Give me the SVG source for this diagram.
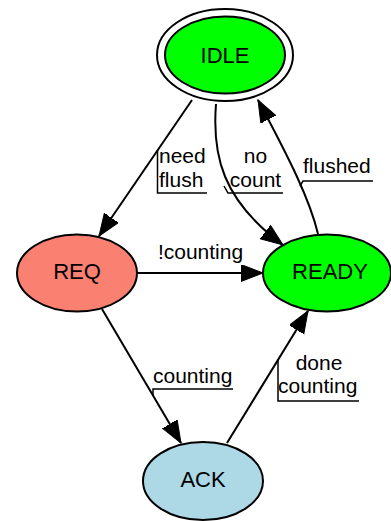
<svg xmlns="http://www.w3.org/2000/svg" width="391" height="521" viewBox="0 0 391 521">
<style>
.n{stroke:#000;stroke-width:2}
.e{fill:none;stroke:#000;stroke-width:2}
.d{fill:none;stroke:#000;stroke-width:1.5}
.t{font-family:"Liberation Sans",Arial,sans-serif;font-size:22px;fill:#000;text-anchor:middle}
.l{font-family:"Liberation Sans",Arial,sans-serif;font-size:21px;fill:#000}
</style>
<defs>
<marker id="a" markerUnits="userSpaceOnUse" markerWidth="24" markerHeight="18" refX="22" refY="8.5" orient="auto" viewBox="0 0 24 18">
<path d="M0,0 L22,8.5 L0,17 Z" fill="#000" stroke="#000" stroke-width="1"/>
</marker>
</defs>
<g id="edges">
<path class="e" d="M192,100 L99,236" marker-end="url(#a)"/>
<path class="e" d="M216,104 C212,155 222,200 283,245" marker-end="url(#a)"/>
<path class="e" d="M318,234 C310,200 290,160 258,100" marker-end="url(#a)"/>
<path class="e" d="M137,273 L263,273" marker-end="url(#a)"/>
<path class="e" d="M102,309 L181,443" marker-end="url(#a)"/>
<path class="e" d="M227,443 L308,311" marker-end="url(#a)"/>
<text class="l" x="159" y="163">need</text>
<text class="l" x="159" y="187">flush</text>
<path class="d" d="M157.5,150 L157.5,193 L207,193"/>
<text class="l" x="255.5" y="163" text-anchor="middle">no</text>
<text class="l" x="255.5" y="187" text-anchor="middle">count</text>
<path class="d" d="M224,186 L228,193 L283,193"/>
<text class="l" x="303" y="173">flushed</text>
<path class="d" d="M300,186 L303,181 L373,181"/>
<text class="l" x="200.5" y="259" text-anchor="middle">!counting</text>
<text class="l" x="153" y="383">counting</text>
<path class="d" d="M153,396 L153,389 L233,389"/>
<text class="l" x="319" y="370" text-anchor="middle">done</text>
<text class="l" x="278" y="393">counting</text>
<path class="d" d="M278,359 L278,401 L359,401"/>
</g>
<g id="IDLE">
<ellipse cx="225" cy="55" rx="68" ry="46" fill="none" class="n"/>
<ellipse cx="225" cy="55" rx="60" ry="38.5" fill="#00ff00" class="n"/>
<text class="t" x="225" y="63">IDLE</text>
</g>
<g id="REQ">
<ellipse cx="77" cy="273" rx="60" ry="38.5" fill="#fa8072" class="n"/>
<text class="t" x="77" y="279">REQ</text>
</g>
<g id="READY">
<ellipse cx="327" cy="273" rx="64" ry="38.5" fill="#00ff00" class="n"/>
<text class="t" x="330" y="279">READY</text>
</g>
<g id="ACK">
<ellipse cx="203" cy="481" rx="60" ry="39" fill="#add8e6" class="n"/>
<text class="t" x="203" y="487">ACK</text>
</g>
</svg>
